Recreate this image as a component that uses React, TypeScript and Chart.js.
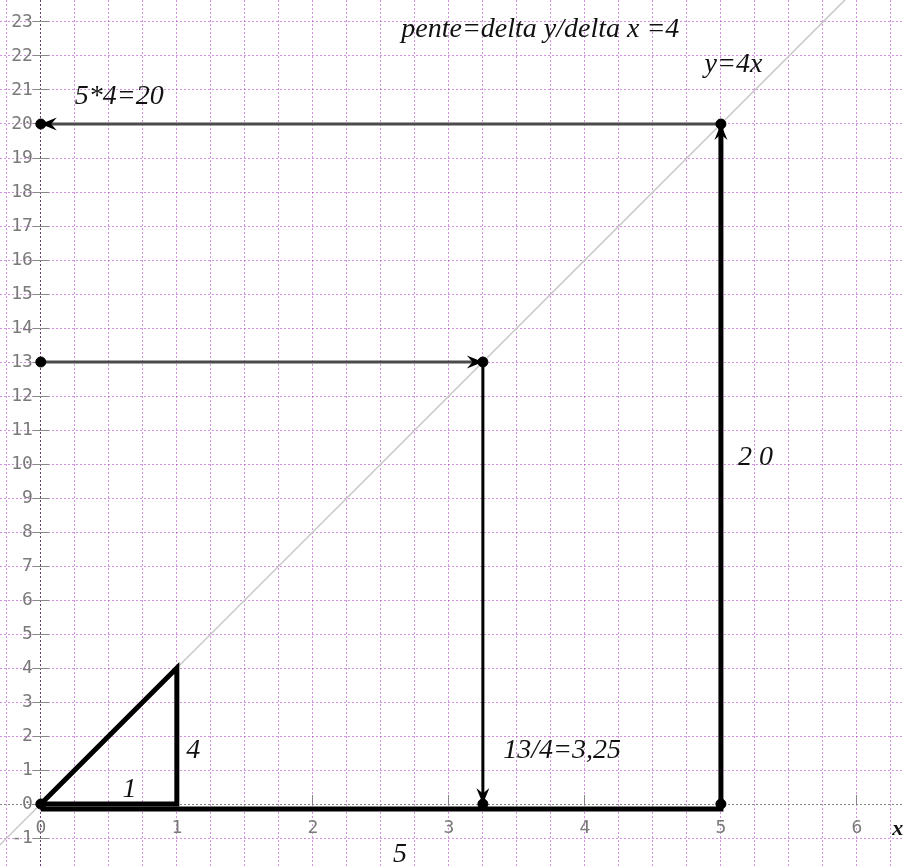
import React, { useEffect, useRef } from 'react';
import { Chart, registerables } from 'chart.js';
Chart.register(...registerables);

// axis window
const X_MIN = -0.3;
const X_MAX = 6.346;
const Y_MIN = -1.882;
const Y_MAX = 23.647;

// y = 4x reference line
const slopeLineX = [-0.5, 6.5];
const slopeLineY = [-2, 26];

// triangle (run 1, rise 4)
const triangleX = [0, 1, 1, 0];
const triangleY = [0, 4, 0, 0];

// bracket for x = 5 going up to 20
const bracketX = [0, 5, 5];
const bracketY = [-0.15, -0.15, 20];

// arrow from (5,20) to y-axis
const arrow20X = [5, 0];
const arrow20Y = [20, 20];

// arrow from y-axis at 13 to the line
const arrow13X = [0, 3.25];
const arrow13Y = [13, 13];

// drop down to x = 3.25
const dropX = [3.25, 3.25];
const dropY = [13, 0];

// dots
const dotX = [0, 5, 0, 3.25, 3.25, 5, 0];
const dotY = [20, 20, 13, 13, 0, 0, 0];

// text annotations
const noteTexts = ['pente=delta y/delta x =4', 'y=4x', '5*4=20', '2 0', '13/4=3,25', '4', '1', '5', 'x'];
const noteX = [2.65, 4.88, 0.25, 5.125, 3.4, 1.07, 0.6, 2.59, 6.26];
const noteY = [22.56, 21.53, 20.59, 9.97, 1.35, 1.35, 0.2, -1.7, -0.91];

const xy = (xs: number[], ys: number[]) => xs.map((x, i) => ({ x, y: ys[i] }));

const textPlugin = {
  id: 'texts',
  afterDatasetsDraw(chart: any) {
    const { ctx, scales } = chart;
    const sx = scales.x;
    const sy = scales.y;
    ctx.save();
    ctx.fillStyle = '#111';
    ctx.textAlign = 'left';
    ctx.textBaseline = 'alphabetic';
    noteTexts.forEach((t, i) => {
      ctx.font = t === 'x' ? 'italic bold 22px "Liberation Serif"' : 'italic 28px "Liberation Serif"';
      ctx.fillText(t, sx.getPixelForValue(noteX[i]), sy.getPixelForValue(noteY[i]));
    });
    ctx.restore();
  },
};

const arrowPlugin = {
  id: 'arrows',
  afterDatasetsDraw(chart: any) {
    const { ctx } = chart;
    chart.data.datasets.forEach((ds: any, i: number) => {
      if (!ds.arrowHead) return;
      const pts = chart.getDatasetMeta(i).data;
      const n = pts.length;
      const p1 = pts[n - 2];
      const p2 = pts[n - 1];
      const ang = Math.atan2(p2.y - p1.y, p2.x - p1.x);
      const L = 16;
      const W = 6.5;
      ctx.save();
      ctx.translate(p2.x, p2.y);
      ctx.rotate(ang);
      ctx.beginPath();
      ctx.moveTo(0, 0);
      ctx.lineTo(-L, -W);
      ctx.lineTo(-L * 0.65, 0);
      ctx.lineTo(-L, W);
      ctx.closePath();
      ctx.fillStyle = '#000';
      ctx.fill();
      ctx.restore();
    });
  },
};

const GRID = 'rgba(180, 70, 200, 0.6)';
const AXIS = 'rgba(90, 40, 100, 0.9)';
const TICK_FONT = { family: 'DejaVu Sans Mono', size: 18 };
const noPad = (s: any) => {
  s.paddingLeft = 0;
  s.paddingRight = 0;
  s.paddingTop = 0;
  s.paddingBottom = 0;
};

export default function App() {
  const ref = useRef<HTMLCanvasElement>(null);
  useEffect(() => {
    if (!ref.current) return;
    const line = (data: any, color: string, width: number, extra: any = {}) => ({
      data,
      showLine: true,
      borderColor: color,
      backgroundColor: color,
      borderWidth: width,
      pointRadius: 0,
      pointHoverRadius: 0,
      fill: false,
      tension: 0,
      ...extra,
    });
    const chart = new Chart(ref.current, {
      type: 'scatter',
      data: {
        datasets: [
          {
            data: xy(dotX, dotY),
            pointRadius: 5,
            pointBackgroundColor: '#000',
            pointBorderColor: '#000',
            showLine: false,
          } as any,
          line(xy(arrow20X, arrow20Y), '#4a4a4a', 3, { arrowHead: true }),
          line(xy(arrow13X, arrow13Y), '#4a4a4a', 3, { arrowHead: true }),
          line(xy(dropX, dropY), '#000', 3, { arrowHead: true }),
          line(xy(bracketX, bracketY), '#000', 5, { arrowHead: true, borderJoinStyle: 'miter' }),
          line(xy(triangleX, triangleY), '#000', 5, { borderJoinStyle: 'miter' }),
          line(xy(slopeLineX, slopeLineY), '#c8c8c8', 1.5),
        ],
      },
      options: {
        animation: false,
        responsive: false,
        devicePixelRatio: 1,
        layout: { padding: 0, autoPadding: false },
        plugins: { legend: { display: false }, tooltip: { enabled: false } },
        scales: {
          x: {
            type: 'linear',
            position: { y: 0 } as any,
            min: X_MIN,
            max: X_MAX,
            afterFit: noPad,
            ticks: {
              stepSize: 0.25,
              autoSkip: false,
              maxRotation: 0,
              includeBounds: false,
              color: '#7a7a7a',
              font: TICK_FONT,
              padding: 23,
              callback: (v: any) => (Number.isInteger(v) ? String(v) : ''),
            },
            grid: {
              color: (c: any) => (c.tick && c.tick.value === 0 ? AXIS : GRID),
              lineWidth: 1,
              drawTicks: true,
              tickLength: -9,
              tickBorderDash: [],
              tickColor: (c: any) => (c.tick && Number.isInteger(c.tick.value) ? '#888' : 'rgba(0,0,0,0)'),
            },
            border: { display: false, dash: [2, 2] },
          },
          y: {
            type: 'linear',
            position: { x: -0.058 } as any,
            min: Y_MIN,
            max: Y_MAX,
            afterFit: noPad,
            ticks: {
              stepSize: 1,
              autoSkip: false,
              includeBounds: false,
              color: '#7a7a7a',
              font: TICK_FONT,
              padding: 0,
              callback: (v: any) => (Number.isInteger(v) ? String(v) : ''),
            },
            grid: {
              color: (c: any) => (c.tick && c.tick.value === 0 ? 'rgba(120,120,120,0.9)' : GRID),
              lineWidth: 1,
              drawTicks: true,
              tickLength: -16,
              tickBorderDash: [],
              tickColor: '#888',
            },
            border: { display: false, dash: [2, 2] },
          },
        },
      },
      plugins: [arrowPlugin, textPlugin],
    } as any);
    return () => chart.destroy();
  }, []);
  return (
    <canvas
      ref={ref}
      width={904}
      height={868}
      style={{ position: 'fixed', left: 0, top: 0, width: 904, height: 868 }}
    />
  );
}
